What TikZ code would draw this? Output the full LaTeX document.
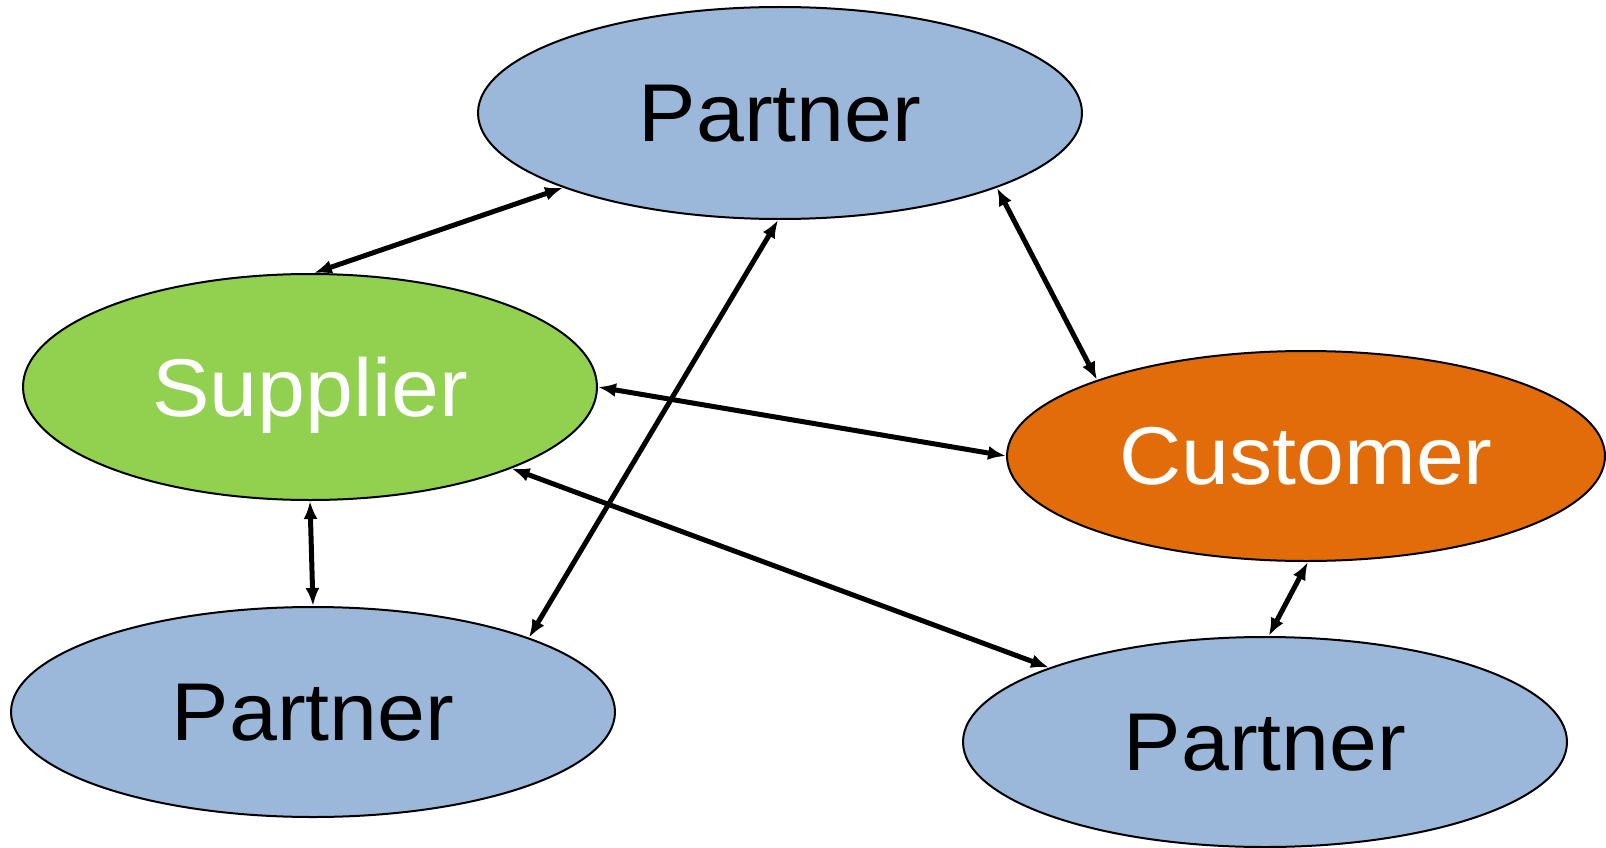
\documentclass[tikz,border=0pt]{standalone}
\usepackage{fontspec}
\setmainfont{Liberation Sans}
\usetikzlibrary{shapes.geometric,arrows.meta}
\definecolor{pblue}{HTML}{9BB7D9}
\definecolor{sgreen}{HTML}{92D050}
\definecolor{corange}{HTML}{E36C0A}
\begin{document}
\begin{tikzpicture}[x=1pt,y=-1pt,
  bubble/.style={ellipse, draw=black, line width=2pt, inner sep=0pt, text depth=0pt,
    font=\fontsize{82}{90}\selectfont},
  partner/.style={bubble, fill=pblue, text=black, minimum width=604pt, minimum height=210pt},
  link/.style={line width=5pt, {Latex[length=18pt,width=14pt]}-{Latex[length=18pt,width=14pt]}}]
\useasboundingbox (0,0) rectangle (1606,848);
\node[partner, minimum height=212pt] (T) at (780,113) {\scalebox{1.05}[1]{Partner}};
\node[bubble, fill=sgreen, text=white, minimum width=574pt, minimum height=226pt] (S) at (310,387) {\scalebox{1.05}[1]{Supplier}};
\node[bubble, fill=corange, text=white, minimum width=598pt, minimum height=210pt] (C) at (1306,456) {\scalebox{1.05}[1]{Customer}};
\node[partner] (BL) at (313,712) {\scalebox{1.05}[1]{Partner}};
\node[partner] (BR) at (1265,742) {\scalebox{1.05}[1]{Partner}};
\draw[link] (S.88) -- (T.199);
\draw[link] (T.269) -- (BL.19);
\draw[link] (T.341) -- (C.160);
\draw[link] (S.0) -- (C.180);
\draw[link] (S.338) -- (BR.161);
\draw[link] (S.270) -- (BL.90);
\draw[link] (C.271) -- (BR.88);
\end{tikzpicture}
\end{document}
